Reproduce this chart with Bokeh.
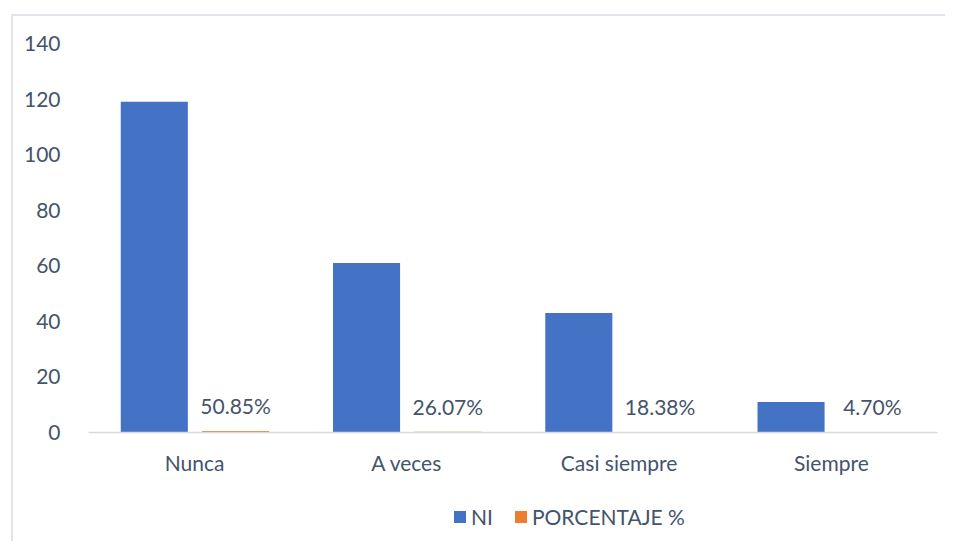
from bokeh.plotting import figure
from bokeh.layouts import column
from bokeh.models import (FactorRange, Range1d, ColumnDataSource, LabelSet, Legend,
                          LegendItem, FixedTicker)
from bokeh.transform import dodge
from bokeh.core.properties import value
from bokeh.embed import file_html
from bokeh.resources import INLINE

categories = ["Nunca", "A veces", "Casi siempre", "Siempre"]
ni_values = [119, 61, 43, 11]
pct_values = [0.5085, 0.2607, 0.1838, 0.0470]
pct_labels = ["50.85%", "26.07%", "18.38%", "4.70%"]
y_ticks = [0, 20, 40, 60, 80, 100, 120, 140]

FONT = "Lato"
TXT = "#44546A"
BLUE = "#4472C4"
ORANGE = "#ED7D31"
BORDER = "2px solid #E1E5EA"

src = ColumnDataSource(dict(cat=categories, ni=ni_values, pct=pct_values, lab=pct_labels))

p = figure(x_range=FactorRange(*categories, range_padding=0), y_range=Range1d(0, 140),
           frame_width=847, frame_height=387, output_backend="svg", toolbar_location=None,
           min_border_left=75, min_border_right=10, min_border_top=27, min_border_bottom=50)
p.margin = (14, 0, 0, 11)
p.styles = {"border-left": BORDER, "border-top": BORDER}
p.outline_line_color = None
p.xgrid.grid_line_color = None
p.ygrid.grid_line_color = None

p.vbar(x=dodge("cat", -0.19, range=p.x_range), top="ni", width=0.316, source=src,
       fill_color=BLUE, line_color=None)
p.vbar(x=dodge("cat", 0.193, range=p.x_range), top="pct", width=0.316, source=src,
       fill_color=ORANGE, line_color=None)

labels = LabelSet(x=dodge("cat", 0.193, range=p.x_range), y="pct", text="lab", source=src,
                  text_align="center", text_baseline="alphabetic", y_offset=17,
                  text_font=value(FONT), text_font_size="21px", text_color=TXT)
p.add_layout(labels)

p.yaxis.ticker = FixedTicker(ticks=y_ticks)
p.yaxis.axis_line_color = None
p.yaxis.major_tick_line_color = None
p.yaxis.minor_tick_line_color = None
p.yaxis.major_label_text_font = FONT
p.yaxis.major_label_text_font_size = "21px"
p.yaxis.major_label_text_color = TXT
p.yaxis.major_label_standoff = 22

p.xaxis.axis_line_color = "#D9D9D9"
p.xaxis.axis_line_width = 1.5
p.xaxis.major_tick_line_color = None
p.xaxis.minor_tick_line_color = None
p.xaxis.major_label_text_font = FONT
p.xaxis.major_label_text_font_size = "21px"
p.xaxis.major_label_text_color = TXT
p.xaxis.major_label_standoff = 11

# Legend strip below the chart (same series, drawn outside its visible range)
lf = figure(x_range=FactorRange(*categories, range_padding=0), y_range=Range1d(1000, 1001),
            width=934, height=61, output_backend="svg", toolbar_location=None,
            x_axis_location=None, y_axis_location=None, min_border=0)
lf.margin = (0, 0, 0, 11)
lf.styles = {"border-left": BORDER}
lf.outline_line_color = None
lf.grid.visible = False
l1 = lf.vbar(x=dodge("cat", -0.19, range=lf.x_range), top="ni", width=0.316, source=src,
             fill_color=BLUE, line_color=None)
l2 = lf.vbar(x=dodge("cat", 0.193, range=lf.x_range), top="pct", width=0.316, source=src,
             fill_color=ORANGE, line_color=None)

legend = Legend(items=[LegendItem(label="NI", renderers=[l1]),
                       LegendItem(label="PORCENTAJE %", renderers=[l2])],
                orientation="horizontal", location=(364, 12),
                glyph_width=15, glyph_height=15, label_standoff=4, spacing=20,
                label_text_font=FONT, label_text_font_size="21px", label_text_color=TXT,
                border_line_color=None, background_fill_alpha=0, margin=0, padding=0)
lf.add_layout(legend)

layout = column(p, lf, spacing=0)
open("out.html", "w").write(file_html(layout, INLINE))
